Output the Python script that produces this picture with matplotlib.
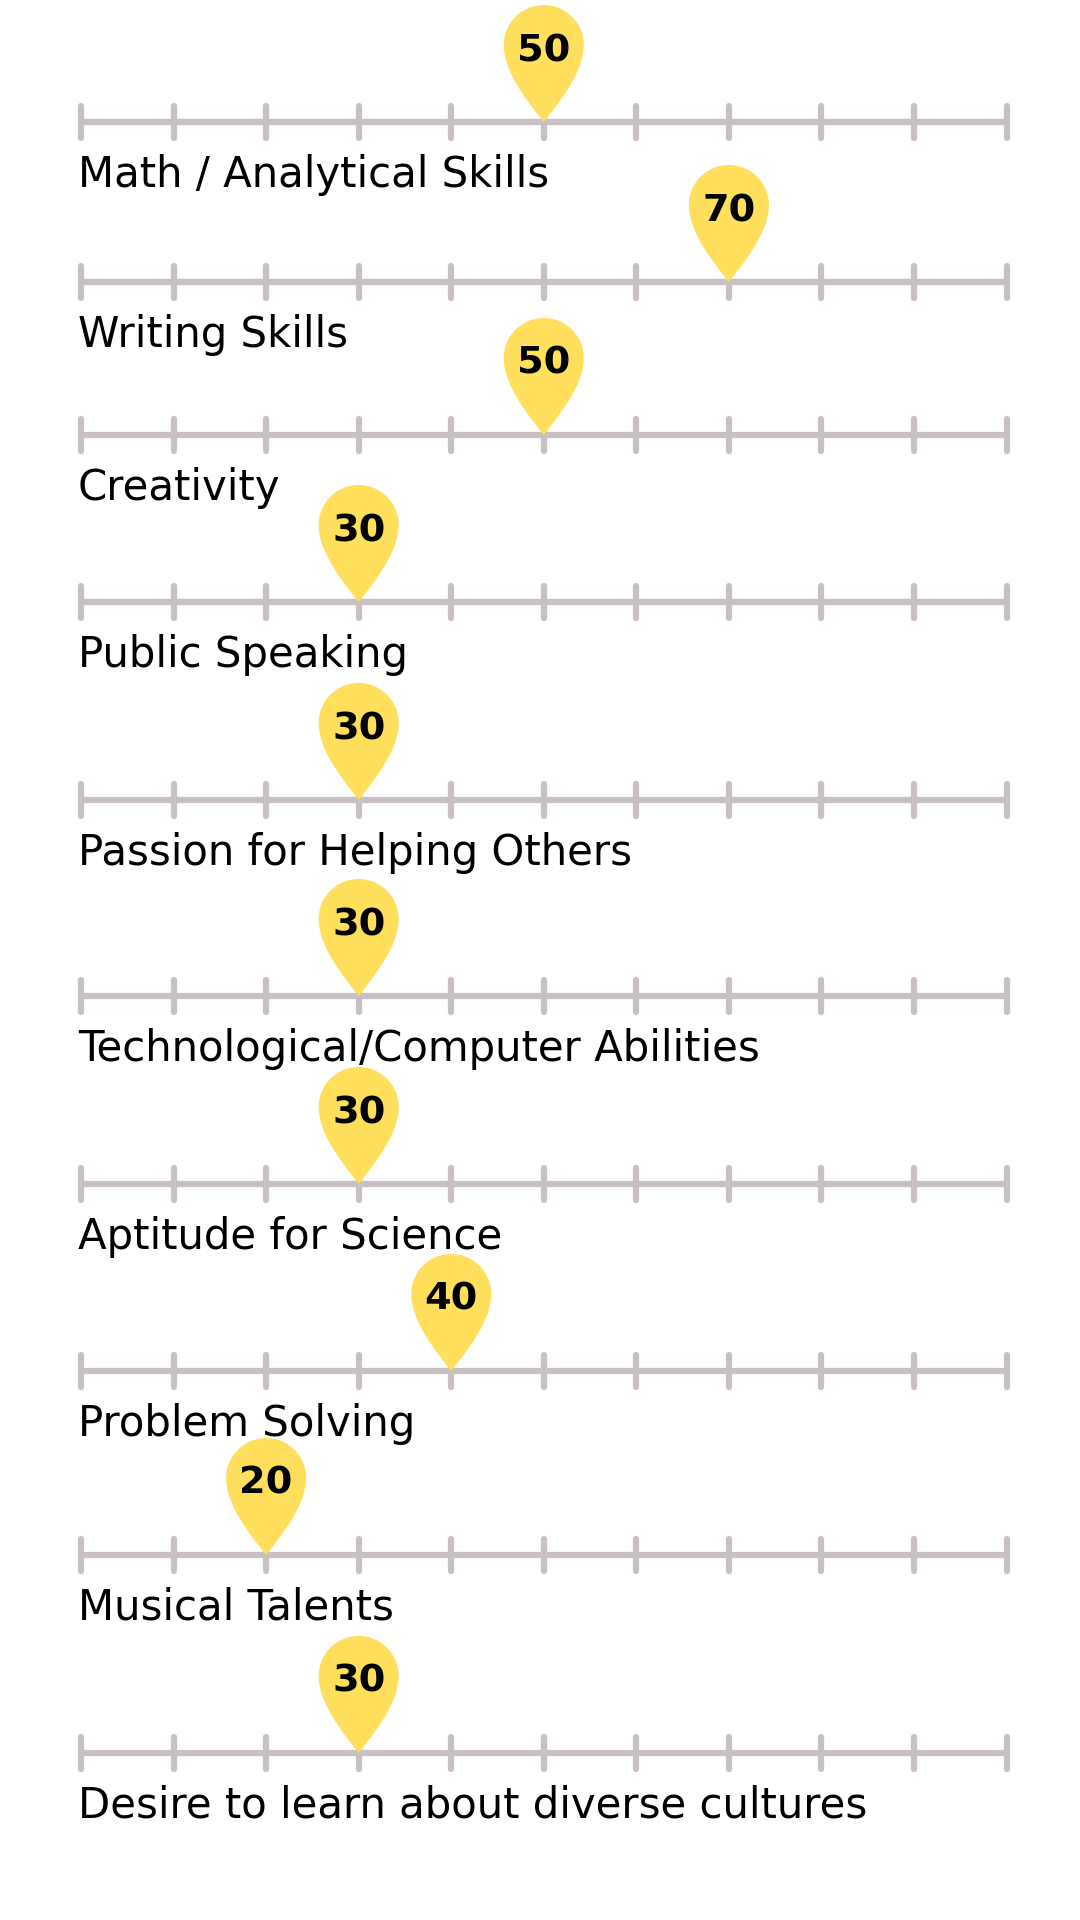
import numpy as np
import matplotlib
matplotlib.use("Agg")
import matplotlib.pyplot as plt
from matplotlib.patches import Polygon

categories = [
    "Math / Analytical Skills",
    "Writing Skills",
    "Creativity",
    "Public Speaking",
    "Passion for Helping Others",
    "Technological/Computer Abilities",
    "Aptitude for Science",
    "Problem Solving",
    "Musical Talents",
    "Desire to learn about diverse cultures",
]
values = [50, 70, 50, 30, 30, 30, 30, 40, 20, 30]
tick_values = list(range(0, 101, 10))

# layout (pixels)
W, H = 1080, 1920
X0, X1 = 81, 1006.5
row_y = [122, 282, 435, 602, 800, 996, 1184, 1371, 1555, 1753]
PX = (X1 - X0) / 100.0  # pixels per value unit

AXIS_COLOR = "#C9C0C1"
PIN_COLOR = "#FFDF5B"

fig = plt.figure(figsize=(W / 100, H / 100), dpi=100)
ax = fig.add_axes([0, 0, 1, 1])
ax.set_xlim(-X0 / PX, (W - X0) / PX)
ax.set_ylim(H, 0)
ax.axis("off")


def bezier(p0, p1, p2, p3, n=40):
    t = np.linspace(0, 1, n)[:, None]
    return ((1 - t) ** 3) * p0 + 3 * ((1 - t) ** 2) * t * p1 + 3 * (1 - t) * t ** 2 * p2 + t ** 3 * p3


def pin_shape(r=40.0, cy=-77.0):
    tip = np.array([0.0, 0.0])
    left = np.array([-r, cy])
    right = np.array([r, cy])
    seg1 = bezier(tip, np.array([-14.0, -18.0]), np.array([-r, cy + 28.0]), left)
    ang = np.linspace(np.pi, 0, 60)
    arc = np.column_stack([r * np.cos(ang), cy - r * np.sin(ang)])
    seg2 = bezier(right, np.array([r, cy + 28.0]), np.array([14.0, -18.0]), tip)
    return np.vstack([seg1, arc, seg2])


shape = pin_shape()

for cat, val, y in zip(categories, values, row_y):
    ax.plot([tick_values[0], tick_values[-1]], [y, y], color=AXIS_COLOR, lw=4.5,
            solid_capstyle="butt", zorder=1)
    for tv in tick_values:
        ax.plot([tv, tv], [y - 16, y + 16], color=AXIS_COLOR, lw=4.5,
                solid_capstyle="round", zorder=1)
    pts = shape.copy()
    pts[:, 0] = val + pts[:, 0] / PX
    pts[:, 1] = y + pts[:, 1]
    ax.add_patch(Polygon(pts, closed=True, facecolor=PIN_COLOR, edgecolor="none", zorder=3))
    ax.text(val, y - 71, f"{val}", ha="center", va="center", fontsize=27.5,
            fontweight="bold", family="DejaVu Sans", color="black", zorder=4)
    ax.text(-3 / PX, y + 65, cat, ha="left", va="baseline", fontsize=30.2,
            family="DejaVu Sans", color="black", zorder=4)

fig.savefig("out.png", dpi=100, facecolor="white")
